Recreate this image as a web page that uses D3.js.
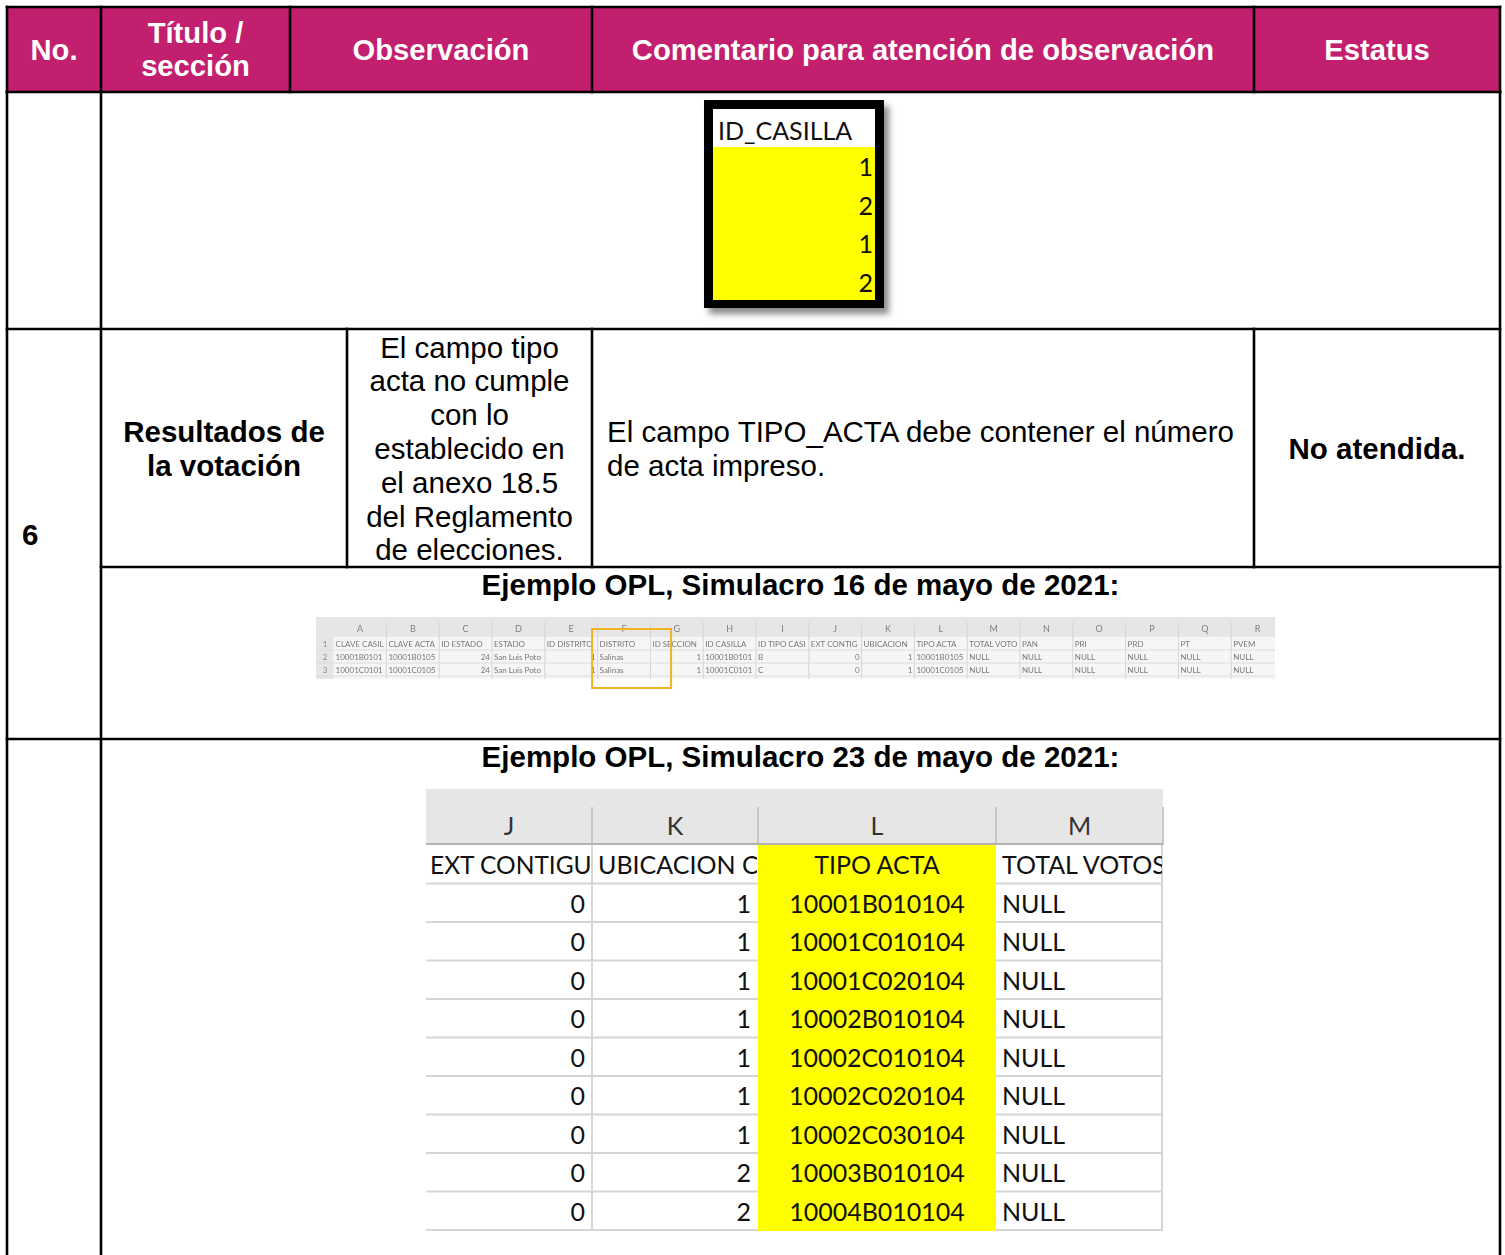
<!DOCTYPE html>
<html><head><meta charset="utf-8">
<script src="https://cdn.jsdelivr.net/npm/d3@7"></script>
<style>body{margin:0;background:#fff} svg{display:block}</style>
</head><body><svg id="c" width="1505" height="1255"></svg>
<script>
// ---------- DATA ----------
const headerLabels = [["No."], ["Título /", "sección"], ["Observación"], ["Comentario para atención de observación"], ["Estatus"]];
const rowNumber = "6";
const tituloLines = ["Resultados de", "la votación"];
const observacionLines = ["El campo tipo", "acta no cumple", "con lo", "establecido en", "el anexo 18.5", "del Reglamento", "de elecciones."];
const comentarioLines = ["El campo TIPO_ACTA debe contener el número", "de acta impreso."];
const estatusText = "No atendida.";
const example1Title = "Ejemplo OPL, Simulacro 16 de mayo de 2021:";
const example2Title = "Ejemplo OPL, Simulacro 23 de mayo de 2021:";

const idCasillaHeader = "ID_CASILLA";
const idCasillaValues = [1, 2, 1, 2];

const sheet1Letters = ["A","B","C","D","E","F","G","H","I","J","K","L","M","N","O","P","Q","R"];
const sheet1RowNums = [1, 2, 3];
const sheet1Headers = ["CLAVE CASILLA","CLAVE ACTA","ID ESTADO","ESTADO","ID DISTRITO","DISTRITO","ID SECCION","ID CASILLA","ID TIPO CASILLA","EXT CONTIGUA","UBICACION CASILLA","TIPO ACTA","TOTAL VOTOS","PAN","PRI","PRD","PT","PVEM"];
const sheet1Row2 = ["10001B01010","10001B01050",24,"San Luis Potosí",1,"Salinas",1,"10001B01010","B",0,1,"10001B01050","NULL","NULL","NULL","NULL","NULL","NULL"];
const sheet1Row3 = ["10001C01010","10001C01050",24,"San Luis Potosí",1,"Salinas",1,"10001C01010","C",0,1,"10001C01050","NULL","NULL","NULL","NULL","NULL","NULL"];
const sheet1Highlight = "F";

const sheet2Letters = ["J", "K", "L", "M"];
const sheet2Headers = ["EXT CONTIGUA", "UBICACION CASILLA", "TIPO ACTA", "TOTAL VOTOS"];
const extContigua = [0, 0, 0, 0, 0, 0, 0, 0, 0];
const ubicacion = [1, 1, 1, 1, 1, 1, 1, 2, 2];
const tipoActa = ["10001B010104","10001C010104","10001C020104","10002B010104","10002C010104","10002C020104","10002C030104","10003B010104","10004B010104"];
const totalVotos = ["NULL","NULL","NULL","NULL","NULL","NULL","NULL","NULL","NULL"];

// ---------- DRAW ----------
const svg = d3.select("#c");
const defs = svg.append("defs");
defs.append("filter").attr("id","shadow").attr("x","-20%").attr("y","-20%").attr("width","140%").attr("height","140%")
  .append("feGaussianBlur").attr("stdDeviation", 3);
defs.append("filter").attr("id","soft")
  .append("feGaussianBlur").attr("stdDeviation", 0.35);

const ARIAL = "'Liberation Sans', Arial, sans-serif";
const CAL = "Lato, 'Open Sans', sans-serif";
const MAG = "#C2206E";

function text(g, x, y, s, o = {}) {
  return g.append("text").attr("x", x).attr("y", y).text(s)
    .attr("font-family", o.ff || ARIAL).attr("font-size", o.fs || 29.5)
    .attr("font-weight", o.fw || "normal").attr("fill", o.fill || "#000")
    .attr("text-anchor", o.anchor || "start")
    .attr("clip-path", o.clip || null);
}
// shorten a text (like a cell that is cut by its neighbour) until it fits
function fit(sel, maxW) {
  const node = sel.node();
  let s = node.textContent;
  while (s.length > 1 && node.getComputedTextLength() > maxW) {
    s = s.slice(0, -1);
    node.textContent = s;
  }
  return sel;
}

// Column boundaries
const L = 7, R = 1500;
const headCols = [L, 101, 290, 592, 1254, R];
const rowCols = [L, 101, 347, 592, 1254, R];
const yTop = 7, yHead = 92, yImg = 329, yMain = 567, yEx = 739, yBot = 1255;

// Header band
svg.append("rect").attr("x", L).attr("y", yTop).attr("width", R - L).attr("height", yHead - yTop).attr("fill", MAG);
const hg = svg.append("g");
headerLabels.forEach((lines, i) => {
  const cx = (headCols[i] + headCols[i + 1]) / 2;
  const base = lines.length === 1 ? [59.5] : [43, 76];
  lines.forEach((ln, j) => text(hg, cx, base[j], ln, { fw: "bold", fs: 29.2, fill: "#fff", anchor: "middle" }));
});

// ---------- ID_CASILLA image ----------
const ic = svg.append("g");
ic.append("rect").attr("x", 709).attr("y", 106).attr("width", 180).attr("height", 208).attr("fill", "#8a8a8a").attr("filter", "url(#shadow)");
ic.append("rect").attr("x", 704).attr("y", 100).attr("width", 180).attr("height", 208).attr("fill", "#000");
const icY = d3.scaleBand().domain(d3.range(idCasillaValues.length + 1)).range([108.5, 301.5]);
ic.append("rect").attr("x", 713).attr("y", 109).attr("width", 162).attr("height", 147 - 109).attr("fill", "#fff");
ic.append("rect").attr("x", 713).attr("y", 147).attr("width", 162).attr("height", 300 - 147).attr("fill", "#FFFF00");
text(ic, 718, 140, idCasillaHeader, { ff: CAL, fs: 25, fill: "#111" });
idCasillaValues.forEach((v, i) => text(ic, 873, icY(i + 1) + icY.step() / 2 + 9.5, v, { ff: CAL, fs: 25, fill: "#111", anchor: "end" }));

// ---------- Row 6 texts ----------
const tg = svg.append("g");
text(tg, 22, 545, rowNumber, { fw: "bold" });
tituloLines.forEach((ln, j) => text(tg, (rowCols[1] + rowCols[2]) / 2, 441.5 + 34 * j, ln, { fw: "bold", anchor: "middle" }));
observacionLines.forEach((ln, j) => text(tg, (rowCols[2] + rowCols[3]) / 2, 357.5 + 33.8 * j, ln, { anchor: "middle" }));
comentarioLines.forEach((ln, j) => text(tg, 607, 441.5 + 34 * j, ln));
text(tg, (rowCols[4] + rowCols[5]) / 2, 458.5, estatusText, { fw: "bold", anchor: "middle" });
text(tg, (101 + R) / 2, 595, example1Title, { fw: "bold", anchor: "middle" });
text(tg, (101 + R) / 2, 767, example2Title, { fw: "bold", anchor: "middle" });

// ---------- Small spreadsheet (Simulacro 16) ----------
const s1 = svg.append("g").attr("filter", "url(#soft)");
const s1Left = 316, s1Right = 1275, s1Top = 617, s1HeadB = 637, s1Bottom = 679;
defs.append("clipPath").attr("id", "s1clip").append("rect").attr("x", s1Left).attr("y", s1Top).attr("width", s1Right - s1Left).attr("height", s1Bottom - s1Top);
const s1x = d3.scaleBand().domain(sheet1Letters).range([333.6, 333.6 + 52.8 * sheet1Letters.length]);
const s1y = d3.scaleBand().domain(sheet1RowNums).range([s1HeadB, s1HeadB + 13 * sheet1RowNums.length]);
const s1g = s1.append("g").attr("clip-path", "url(#s1clip)");
s1g.append("rect").attr("x", s1Left).attr("y", s1Top).attr("width", s1Right - s1Left).attr("height", s1Bottom - s1Top).attr("fill", "#F6F6F6");
s1g.append("rect").attr("x", s1Left).attr("y", s1Top).attr("width", s1Right - s1Left).attr("height", s1HeadB - s1Top).attr("fill", "#E6E6E6");
s1g.append("rect").attr("x", s1Left).attr("y", s1Top).attr("width", 333.6 - s1Left).attr("height", s1Bottom - s1Top).attr("fill", "#E6E6E6");
sheet1Letters.forEach(c => {
  s1g.append("line").attr("x1", s1x(c) + s1x.bandwidth()).attr("x2", s1x(c) + s1x.bandwidth()).attr("y1", 622).attr("y2", s1Bottom).attr("stroke", "#D4D4D4").attr("stroke-width", 1);
  text(s1g, s1x(c) + s1x.bandwidth() / 2, 632, c, { ff: CAL, fs: 9, fill: "#7f7f7f", anchor: "middle" });
});
sheet1RowNums.forEach(r => {
  s1g.append("line").attr("x1", s1Left).attr("x2", s1Right).attr("y1", s1y(r) + 13).attr("y2", s1y(r) + 13).attr("stroke", "#DCDCDC").attr("stroke-width", 1);
  text(s1g, 325, s1y(r) + 10, r, { ff: CAL, fs: 8, fill: "#8a8a8a", anchor: "middle" });
});
const s1Rows = [sheet1Headers, sheet1Row2, sheet1Row3];
s1Rows.forEach((row, ri) => {
  row.forEach((v, ci) => {
    const c = sheet1Letters[ci];
    const num = typeof v === "number";
    const cid = "s1c" + ri + "_" + ci;
    defs.append("clipPath").attr("id", cid).append("rect").attr("x", s1x(c) + 0.5).attr("y", s1y(sheet1RowNums[ri])).attr("width", s1x.bandwidth() - 1).attr("height", 13);
    const t = text(s1g, num ? s1x(c) + s1x.bandwidth() - 2 : s1x(c) + 2, s1y(sheet1RowNums[ri]) + 10, v,
      { ff: CAL, fs: 8, fill: "#777", anchor: num ? "end" : "start", clip: "url(#" + cid + ")" });
    if (!num) fit(t, s1x.bandwidth() - 3);
  });
});
// highlight box
svg.append("rect").attr("x", s1x(sheet1Highlight) - 5.5).attr("y", 629).attr("width", 79).attr("height", 59)
  .attr("fill", "none").attr("stroke", "#F2B320").attr("stroke-width", 2);

// ---------- Bottom spreadsheet (Simulacro 23) ----------
const s2 = svg.append("g");
const s2Bounds = [426, 592, 758, 996, 1163];
const s2Top = 789, s2HeadB = 845, s2Bottom = 1230;
const s2x = d3.scaleOrdinal().domain(sheet2Letters).range(s2Bounds.slice(0, 4));
const s2w = c => s2Bounds[sheet2Letters.indexOf(c) + 1] - s2x(c);
const s2y = d3.scaleBand().domain(d3.range(tipoActa.length + 1)).range([s2HeadB, s2Bottom]);
s2.append("rect").attr("x", 426).attr("y", s2Top).attr("width", 1163 - 426).attr("height", s2HeadB - s2Top).attr("fill", "#E6E6E6");
sheet2Letters.forEach(c => {
  s2.append("line").attr("x1", s2x(c) + s2w(c)).attr("x2", s2x(c) + s2w(c)).attr("y1", 807).attr("y2", s2HeadB).attr("stroke", "#C8C8C8").attr("stroke-width", 2);
  text(s2, s2x(c) + s2w(c) / 2, 835, c, { ff: CAL, fs: 25, fill: "#333", anchor: "middle" });
});
s2.append("line").attr("x1", 426).attr("x2", 1163).attr("y1", s2HeadB - 1).attr("y2", s2HeadB - 1).attr("stroke", "#B2B2B2").attr("stroke-width", 2);
// grid
d3.range(1, tipoActa.length + 2).forEach(i => {
  const y = s2y(i - 1) + s2y.step();
  s2.append("line").attr("x1", 426).attr("x2", 1163).attr("y1", y).attr("y2", y).attr("stroke", "#D6D6D6").attr("stroke-width", 2);
});
[592, 1162].forEach(x => s2.append("line").attr("x1", x).attr("x2", x).attr("y1", s2HeadB).attr("y2", s2Bottom + 1).attr("stroke", "#D6D6D6").attr("stroke-width", 2));
// yellow column L
s2.append("rect").attr("x", s2x("L")).attr("y", s2HeadB).attr("width", s2w("L")).attr("height", s2Bottom - s2HeadB + 1).attr("fill", "#FFFF00");
// clip paths per column
sheet2Letters.forEach(c => {
  defs.append("clipPath").attr("id", "s2c" + c).append("rect").attr("x", s2x(c)).attr("y", s2HeadB).attr("width", s2w(c) - 1).attr("height", s2Bottom - s2HeadB);
});
const rowBase = i => s2y(i) + s2y.bandwidth() / 2 + 10;
// field names row
fit(text(s2, s2x("J") + 4, rowBase(0), sheet2Headers[0], { ff: CAL, fs: 24.5, fill: "#111", clip: "url(#s2cJ)" }), s2w("J") + 1);
fit(text(s2, s2x("K") + 6, rowBase(0), sheet2Headers[1], { ff: CAL, fs: 25, fill: "#111", clip: "url(#s2cK)" }), s2w("K") - 2);
text(s2, s2x("L") + s2w("L") / 2, rowBase(0), sheet2Headers[2], { ff: CAL, fs: 25, fill: "#111", anchor: "middle", clip: "url(#s2cL)" });
fit(text(s2, s2x("M") + 6, rowBase(0), sheet2Headers[3], { ff: CAL, fs: 25, fill: "#111", clip: "url(#s2cM)" }), s2w("M") + 4);
tipoActa.forEach((t, i) => {
  const b = rowBase(i + 1);
  text(s2, s2x("K") - 7, b, extContigua[i], { ff: CAL, fs: 25, fill: "#111", anchor: "end" });
  text(s2, s2x("L") - 7, b, ubicacion[i], { ff: CAL, fs: 25, fill: "#111", anchor: "end" });
  text(s2, s2x("L") + s2w("L") / 2, b, t, { ff: CAL, fs: 25, fill: "#111", anchor: "middle" });
  text(s2, s2x("M") + 6, b, totalVotos[i], { ff: CAL, fs: 25, fill: "#111", clip: "url(#s2cM)" });
});

// ---------- Table borders ----------
const bg = svg.append("g").attr("stroke", "#000").attr("stroke-width", 2.6).attr("stroke-linecap", "square");
function hline(x1, x2, y) { bg.append("line").attr("x1", x1).attr("x2", x2).attr("y1", y).attr("y2", y); }
function vline(x, y1, y2) { bg.append("line").attr("x1", x).attr("x2", x).attr("y1", y1).attr("y2", y2); }
hline(L, R, yTop); hline(L, R, yHead); hline(L, R, yImg); hline(101, R, yMain); hline(L, R, yEx);
headCols.forEach(x => vline(x, yTop, yHead));
vline(L, yHead, yBot + 5); vline(R, yHead, yBot + 5); vline(101, yHead, yBot + 5);
[347, 592, 1254].forEach(x => vline(x, yImg, yMain));
</script></body></html>
